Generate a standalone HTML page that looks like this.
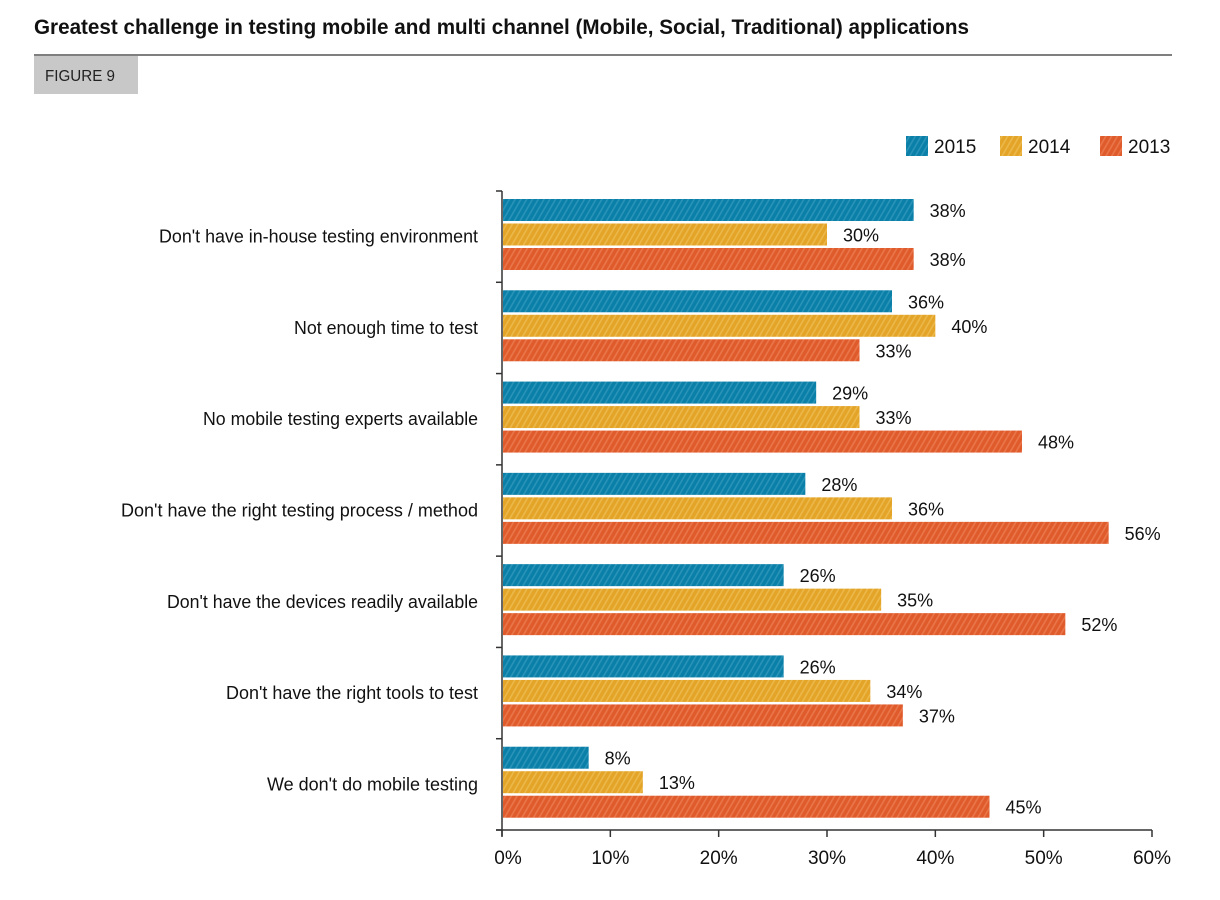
<!DOCTYPE html>
<html><head><meta charset="utf-8"><style>
html,body{margin:0;padding:0;background:#fff;}
svg{display:block;font-family:"Liberation Sans",Arial,sans-serif;}
</style></head><body>
<svg id="chart" width="1220" height="900" viewBox="0 0 1220 900">
<defs>
<pattern id="h0" width="5" height="5" patternUnits="userSpaceOnUse" patternTransform="rotate(30)"><rect width="5" height="5" fill="#0a7fa8"/><rect width="1.6" height="5" fill="#2a93b8"/></pattern>
<pattern id="h1" width="5" height="5" patternUnits="userSpaceOnUse" patternTransform="rotate(30)"><rect width="5" height="5" fill="#e3a428"/><rect width="1.6" height="5" fill="#ecb84a"/></pattern>
<pattern id="h2" width="5" height="5" patternUnits="userSpaceOnUse" patternTransform="rotate(30)"><rect width="5" height="5" fill="#e05b2b"/><rect width="1.6" height="5" fill="#e9764a"/></pattern>
</defs>
<text x="34" y="34" font-size="21" font-weight="bold" textLength="935" lengthAdjust="spacingAndGlyphs" fill="#111">Greatest challenge in testing mobile and multi channel (Mobile, Social, Traditional) applications</text>
<line x1="34" y1="55" x2="1172" y2="55" stroke="#555" stroke-width="1.5"/>
<rect x="34" y="56" width="104" height="38" fill="#c8c8c9"/>
<text x="45" y="81" font-size="16" textLength="70" lengthAdjust="spacingAndGlyphs" fill="#222">FIGURE 9</text>
<g id="legend"></g>
<g id="plot"></g>
</svg>
<script>
const categories=["Don't have in-house testing environment","Not enough time to test","No mobile testing experts available","Don't have the right testing process / method","Don't have the devices readily available","Don't have the right tools to test","We don't do mobile testing"];
const labelWidths=[319,184,275,357,311,252,211];
const series2015=[38,36,29,28,26,26,8];
const series2014=[30,40,33,36,35,34,13];
const series2013=[38,33,48,56,52,37,45];
const seriesNames=["2015","2014","2013"];
const xTicks=[0,10,20,30,40,50,60];

const NS="http://www.w3.org/2000/svg";
const X0=502,X1=1152,XMAX=60,YTOP=191,YBOT=830;
const xs=v=>X0+(v/XMAX)*(X1-X0);
const band=(YBOT-YTOP)/categories.length;
const ys=i=>YTOP+i*band;
function mk(t,a,p){const e=document.createElementNS(NS,t);for(const k in a)e.setAttribute(k,a[k]);p.appendChild(e);return e;}
const plot=document.getElementById('plot');
const legend=document.getElementById('legend');
const all=[series2015,series2014,series2013];

// axes
let ax=mk('line',{x1:X0,y1:YTOP,x2:X0,y2:YBOT+6,stroke:'#333','stroke-width':1.5},plot);


let bx=mk('line',{x1:X0-6,y1:YBOT,x2:X1,y2:YBOT,stroke:'#333','stroke-width':1.5},plot);


for(let i=0;i<=categories.length;i++){
  const t=mk('line',{x1:X0-6,y1:ys(i),x2:X0,y2:ys(i),stroke:'#333','stroke-width':1.5},plot);
  
  
}
xTicks.forEach(v=>{
  const t=mk('line',{x1:xs(v),y1:YBOT,x2:xs(v),y2:YBOT+7,stroke:'#333','stroke-width':1.5},plot);
  
  
  const l=mk('text',{x:xs(v)+(v===0?6:0),y:YBOT+34,'text-anchor':'middle','font-size':19,fill:'#111'},plot);
  l.textContent=v+'%';
  
  
});
categories.forEach((c,i)=>{
  const y0=ys(i)+8;
  const l=mk('text',{x:478,y:ys(i)+band/2+6,'text-anchor':'end','font-size':18,fill:'#111',textLength:labelWidths[i],lengthAdjust:'spacingAndGlyphs'},plot);
  l.textContent=c;
  
  
  all.forEach((s,j)=>{
    const y=y0+j*24.5;
    const r=mk('rect',{x:X0+1,y:y,width:xs(s[i])-X0-1,height:22,fill:'url(#h'+j+')'},plot);
    
    
    const t=mk('text',{x:xs(s[i])+16,y:y+18,'font-size':18,fill:'#111'},plot);
    t.textContent=s[i]+'%';
    
    
  });
});
const lx=[906,1000,1100];
seriesNames.forEach((n,j)=>{
  const r=mk('rect',{x:lx[j],y:136,width:22,height:20,fill:'url(#h'+j+')'},legend);
  
  
  const t=mk('text',{x:lx[j]+28,y:153,'font-size':19,fill:'#111'},legend);
  t.textContent=n;
  
  
});
</script>
</body></html>
